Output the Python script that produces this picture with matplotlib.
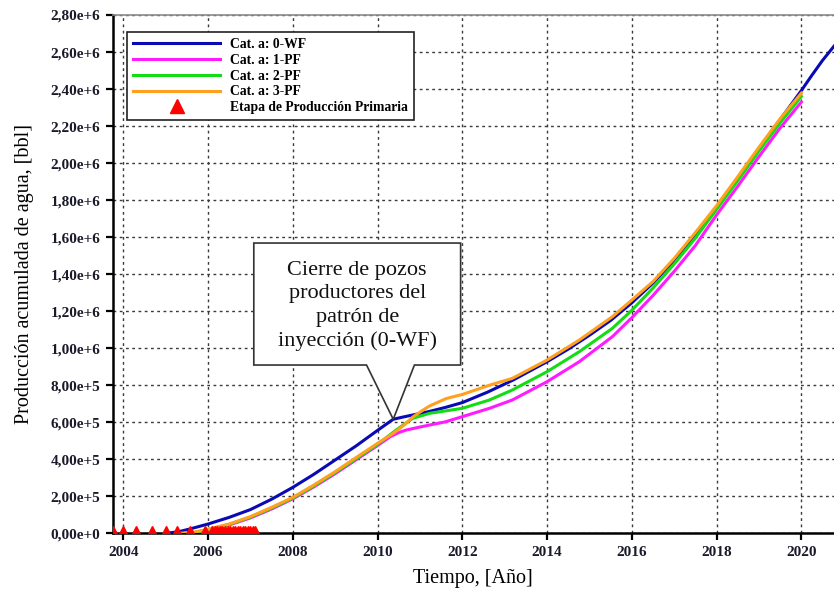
import numpy as np
import matplotlib
matplotlib.use("Agg")
import matplotlib.pyplot as plt
from matplotlib.patches import Polygon
from matplotlib.ticker import FuncFormatter, MultipleLocator

# Produccion acumulada de agua por caso (bbl)
x_0wf = [2005.0, 2005.3, 2005.6, 2006.0, 2006.5, 2007.0, 2007.5, 2008.0, 2008.5,
         2009.0, 2009.5, 2010.0, 2010.37, 2010.6, 2010.83, 2011.2, 2011.6, 2012.0,
         2012.6, 2013.2, 2014.0, 2014.5, 2015.0, 2015.5, 2016.0, 2016.5, 2017.0,
         2017.5, 2018.0, 2018.5, 2019.0, 2019.5, 2020.0, 2020.25, 2020.5, 2020.8]
y_0wf = [0, 8e3, 25e3, 50e3, 86e3, 128e3, 184e3, 248e3, 319e3,
         396e3, 473e3, 556e3, 616e3, 628e3, 639e3, 657e3, 680e3, 706e3,
         763e3, 828e3, 927e3, 995e3, 1.070e6, 1.150e6, 1.245e6, 1.352e6, 1.475e6,
         1.615e6, 1.763e6, 1.918e6, 2.078e6, 2.235e6, 2.392e6, 2.475e6, 2.555e6, 2.64e6]

x_1pf = [2005.4, 2005.7, 2006.0, 2006.5, 2007.0, 2007.5, 2008.0, 2008.5, 2009.0,
         2009.5, 2010.0, 2010.3, 2010.52, 2010.68, 2011.0, 2011.23, 2011.6, 2012.0,
         2012.64, 2013.18, 2014.0, 2014.76, 2015.54, 2016.0, 2016.5, 2017.0, 2017.5,
         2018.0, 2018.5, 2019.0, 2019.5, 2020.0]
y_1pf = [0, 4e3, 18e3, 45e3, 83e3, 131e3, 186e3, 251e3, 322e3,
         398e3, 474e3, 522e3, 546e3, 558e3, 574e3, 585e3, 602e3, 630e3,
         675e3, 720e3, 819e3, 927e3, 1.062e6, 1.165e6, 1.285e6, 1.415e6, 1.555e6,
         1.72e6, 1.875e6, 2.035e6, 2.19e6, 2.33e6]

x_2pf = [2005.4, 2005.7, 2006.0, 2006.5, 2007.0, 2007.5, 2008.0, 2008.5, 2009.0,
         2009.5, 2010.0, 2010.44, 2010.83, 2011.23, 2012.0, 2012.64, 2013.18, 2014.0,
         2014.76, 2015.54, 2016.0, 2016.5, 2017.0, 2017.5, 2018.0, 2018.5, 2019.0,
         2019.5, 2020.0]
y_2pf = [0, 5e3, 20e3, 48e3, 87e3, 136e3, 190e3, 256e3, 328e3,
         404e3, 480e3, 558e3, 621e3, 648e3, 675e3, 720e3, 774e3, 873e3,
         981e3, 1.107e6, 1.205e6, 1.325e6, 1.455e6, 1.595e6, 1.75e6, 1.905e6, 2.065e6,
         2.218e6, 2.36e6]

x_3pf = [2005.4, 2005.65, 2006.0, 2006.5, 2007.0, 2007.5, 2008.0, 2008.5, 2009.0,
         2009.5, 2010.0, 2010.37, 2010.6, 2010.83, 2011.05, 2011.23, 2011.62, 2012.0,
         2012.64, 2013.18, 2014.0, 2014.76, 2015.54, 2016.0, 2016.5, 2017.0, 2017.5,
         2018.0, 2018.5, 2019.0, 2019.5, 2020.0]
y_3pf = [0, 5e3, 22e3, 50e3, 90e3, 140e3, 194e3, 261e3, 333e3,
         410e3, 486e3, 540e3, 580e3, 628e3, 662e3, 688e3, 728e3, 750e3,
         800e3, 837e3, 936e3, 1.044e6, 1.17e6, 1.26e6, 1.36e6, 1.485e6, 1.625e6,
         1.77e6, 1.927e6, 2.086e6, 2.24e6, 2.378e6]

# etapa de produccion primaria
x_prim = [2003.76, 2004.0, 2004.31, 2004.67, 2005.01, 2005.26, 2005.57, 2005.92,
          2006.10, 2006.16, 2006.22, 2006.28, 2006.34, 2006.40, 2006.46, 2006.52,
          2006.58, 2006.64, 2006.70, 2006.76, 2006.82, 2006.88, 2006.94, 2007.00,
          2007.06, 2007.12]
y_prim = [0] * len(x_prim)

series = [("Cat. a: 0-WF", x_0wf, y_0wf, "#0a0ab4"),
          ("Cat. a: 1-PF", x_1pf, y_1pf, "#ff1aff"),
          ("Cat. a: 2-PF", x_2pf, y_2pf, "#14dc14"),
          ("Cat. a: 3-PF", x_3pf, y_3pf, "#ffa01e")]

note = "Cierre de pozos\nproductores del\npatrón de\ninyección (0-WF)"

serif = "Liberation Serif"
tick_col = "#1a1a2a"

fig = plt.figure(figsize=(8.34, 6.0), dpi=100)
ax = fig.add_axes([0.1351, 0.1112, 0.8649, 0.8638])

for label, xs, ys, col in series:
    ax.plot(xs, ys, color=col, lw=2.2, label=label, zorder=3)
ax.plot(x_prim, y_prim, ls="none", marker="^", ms=10.5, color="#ff0000",
        mec="#ff0000", label="Etapa de Producción Primaria", zorder=4)

ax.set_xlim(2003.75, 2020.77)
ax.set_ylim(0, 2.8e6)
ax.xaxis.set_major_locator(MultipleLocator(2))
ax.yaxis.set_major_locator(MultipleLocator(2e5))


def fmt_sci(v, pos):
    if abs(v) < 1:
        return "0,00e+0"
    e = int(np.floor(np.log10(abs(v)) + 1e-9))
    m = v / 10 ** e
    return f"{m:.2f}e+{e}".replace(".", ",")


ax.yaxis.set_major_formatter(FuncFormatter(fmt_sci))
ax.xaxis.set_major_formatter(FuncFormatter(lambda v, p: f"{int(round(v))}"))

ax.grid(True, color="#3a3a3a", ls=(0, (2, 2.5)), lw=1.0)
ax.set_axisbelow(True)

for s in ("left", "bottom"):
    ax.spines[s].set_linewidth(1.8)
    ax.spines[s].set_color("black")
ax.spines["top"].set_color("#8a8a8a")
ax.spines["top"].set_linewidth(1.2)
ax.spines["right"].set_visible(False)

ax.tick_params(axis="both", direction="out", length=5, width=1.6, color="black",
               pad=4, labelcolor=tick_col)
for t in ax.get_xticklabels() + ax.get_yticklabels():
    t.set_fontfamily(serif)
    t.set_fontweight("bold")
    t.set_fontsize(11)

ax.set_xlabel("Tiempo, [Año]", fontfamily=serif, fontsize=14.5, labelpad=7)
ax.set_ylabel("Producción acumulada de agua, [bbl]", fontfamily=serif,
              fontsize=14.5, labelpad=12)

leg = ax.legend(loc="upper left", bbox_to_anchor=(0.0198, 0.967), borderaxespad=0,
                frameon=True, fancybox=False, handlelength=6.4, handletextpad=0.7,
                labelspacing=0.2, borderpad=0.45,
                prop={"family": serif, "weight": "bold", "size": 9.8})
leg.get_frame().set_edgecolor("#222222")
leg.get_frame().set_linewidth(1.2)
leg.get_frame().set_alpha(1)

# globo de la nota apuntando al cierre de pozos del caso 0-WF
tip = (x_0wf[12], y_0wf[12])
bx0, bx1, by0, by1 = 2007.08, 2011.96, 0.909e6, 1.568e6
px0, px1 = 2009.74, 2010.87
callout = Polygon([(bx0, by0), (px0, by0), tip, (px1, by0), (bx1, by0),
                   (bx1, by1), (bx0, by1)], closed=True, facecolor="white",
                  edgecolor="#333333", lw=1.2, zorder=5)
ax.add_patch(callout)
ax.text((bx0 + bx1) / 2, (by0 + by1) / 2 - 0.01e6, note, ha="center", va="center",
        fontfamily=serif, fontsize=16, linespacing=1.3, color="#111111", zorder=6)

fig.savefig("out.png", dpi=100)
